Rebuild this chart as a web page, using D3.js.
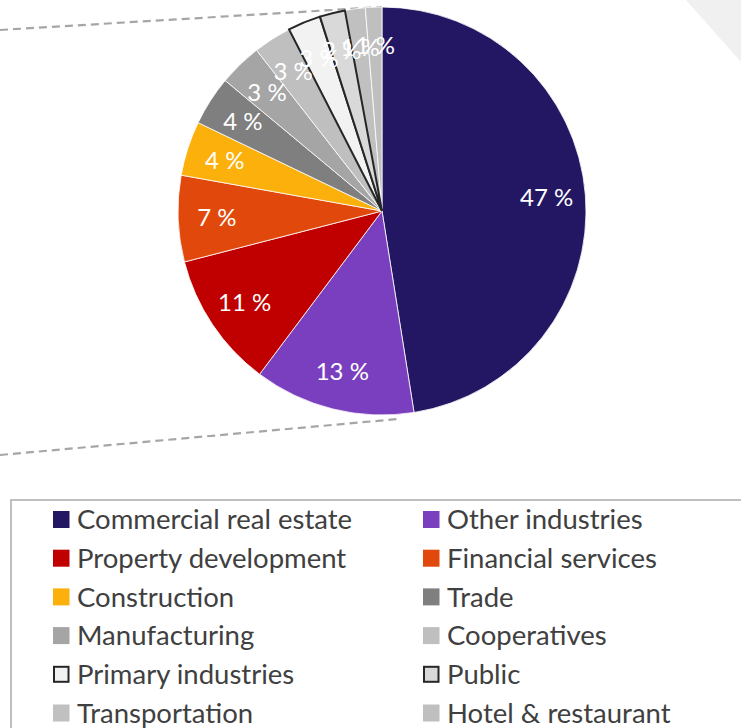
<!DOCTYPE html>
<html>
<head>
<meta charset="utf-8">
<script src="https://cdn.jsdelivr.net/npm/d3@7"></script>
<style>
  body { margin: 0; background: #fff; }
  svg { display: block; }
</style>
</head>
<body>
<div id="chart"></div>
<script>
let categories = ["Commercial real estate", "Other industries", "Property development", "Financial services",
    "Construction", "Trade", "Manufacturing", "Cooperatives", "Primary industries", "Public",
    "Transportation", "Hotel & restaurant"];
let shares = [47.3, 12.7, 10.7, 6.8, 4.3, 3.9, 3.4, 3.0, 2.6, 2.0, 1.6, 1.3];
let shareLabels = ["47 %", "13 %", "11 %", "7 %", "4 %", "4 %", "3 %", "3 %", "3 %", "2 %", "1 %", "1 %"];
let sliceColors = ["#231763", "#7a3fbe", "#c00000", "#e1480b", "#fcb00b", "#7f7f7f",
    "#a5a5a5", "#bfbfbf", "#f2f2f2", "#d9d9d9", "#c0c0c0", "#bfbfbf"];
let outlined = ["Primary industries", "Public"];

let width = 741, height = 728;
let cx = 382, cy = 211, radius = 204;

let svg = d3.select("#chart").append("svg")
    .attr("width", width)
    .attr("height", height);

// faint slide corner top right
svg.append("polygon")
    .attr("points", "686,0 741,0 741,62")
    .style("fill", "#f0f0f0");

// dashed connector lines (drawn behind the pie)
let lineData = [[[0, 30], [cx, cy - radius]], [[0, 455], [398, 419]]];
svg.selectAll("line.conn")
    .data(lineData)
    .enter()
    .append("line")
    .attr("class", "conn")
    .attr("x1", d => d[0][0]).attr("y1", d => d[0][1])
    .attr("x2", d => d[1][0]).attr("y2", d => d[1][1])
    .style("stroke", "#a6a6a6")
    .style("stroke-width", 2.2)
    .style("stroke-dasharray", "8,5");

let slices = categories.map((c, i) => ({ name: c, value: shares[i], label: shareLabels[i], color: sliceColors[i] }));

let pie = d3.pie().sort(null).value(d => d.value);
let arcs = pie(slices);
let arc = d3.arc().innerRadius(0).outerRadius(radius);
let labelArc = d3.arc().innerRadius(radius * 0.81).outerRadius(radius * 0.81);

let pieGroup = svg.append("g").attr("transform", `translate(${cx},${cy})`);

pieGroup.selectAll("path.slice")
    .data(arcs)
    .enter()
    .append("path")
    .attr("class", "slice")
    .attr("d", arc)
    .style("fill", d => d.data.color)
    .style("stroke", "#fff")
    .style("stroke-width", 0.8);

// the two light slices carry a dark outline
pieGroup.selectAll("path.outline")
    .data(arcs.filter(d => outlined.includes(d.data.name)))
    .enter()
    .append("path")
    .attr("class", "outline")
    .attr("d", arc)
    .style("fill", d => d.data.color)
    .style("stroke", "#262626")
    .style("stroke-width", 2);

pieGroup.selectAll("text.lbl")
    .data(arcs)
    .enter()
    .append("text")
    .attr("class", "lbl")
    .attr("transform", d => `translate(${labelArc.centroid(d)})`)
    .attr("text-anchor", "middle")
    .attr("dy", "0.35em")
    .style("font-family", "Lato, 'Open Sans', sans-serif")
    .style("font-size", "24px")
    .style("fill", "#fff")
    .text(d => d.data.label);

// legend box
svg.append("rect")
    .attr("x", 11).attr("y", 500)
    .attr("width", 760).attr("height", 260)
    .style("fill", "#fff")
    .style("stroke", "#bfbfbf")
    .style("stroke-width", 2);

let rowY = d3.scaleLinear().domain([0, 5]).range([519.5, 713]);
let colX = [53, 423];

let items = svg.selectAll("g.item")
    .data(slices)
    .enter()
    .append("g")
    .attr("class", "item")
    .attr("transform", (d, i) => `translate(${colX[i % 2]},${rowY(Math.floor(i / 2))})`);

items.append("rect")
    .attr("x", d => outlined.includes(d.name) ? 1 : 0)
    .attr("y", d => outlined.includes(d.name) ? -7.5 : -8.5)
    .attr("width", d => outlined.includes(d.name) ? 14.5 : 16.5)
    .attr("height", d => outlined.includes(d.name) ? 15 : 17)
    .style("fill", d => d.color)
    .style("stroke", d => outlined.includes(d.name) ? "#262626" : "none")
    .style("stroke-width", 2);

items.append("text")
    .attr("x", 24)
    .attr("dy", "0.35em")
    .style("font-family", "Lato, 'Open Sans', sans-serif")
    .style("font-size", "27.5px")
    .style("fill", "#404040")
    .text(d => d.name);
</script>
</body>
</html>
